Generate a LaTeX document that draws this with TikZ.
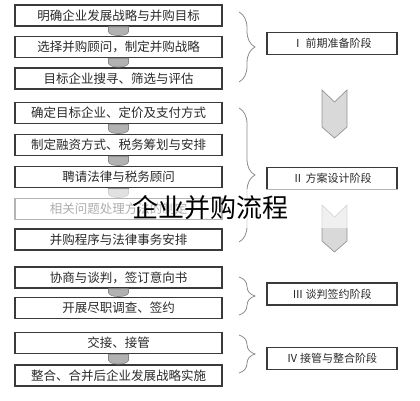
\documentclass[tikz,border=0pt]{standalone}
\usepackage{fontspec}
\setmainfont{Noto Sans CJK SC}
\newfontfamily\wmfont{Noto Sans CJK SC}
\usetikzlibrary{calc,decorations.pathreplacing}

\definecolor{boxline}{HTML}{3A3A3A}
\definecolor{boxtext}{HTML}{2A2A2A}

\begin{document}
\begin{tikzpicture}
  [x=1pt,y=-1pt,
   stepbox/.style={draw=boxline,line width=1.4pt,fill=white,text=boxtext,
     minimum width=207pt,minimum height=21pt,inner sep=0pt,font=\fontsize{12.5}{13}\selectfont},
   stagebox/.style={draw=boxline,line width=1.2pt,fill=white,text=boxtext,
     minimum width=130pt,minimum height=22pt,inner sep=0pt,font=\fontsize{11}{12}\selectfont},
   tab/.style={fill=black!30,draw=black!48,line width=.6pt},
   chev/.style={fill=black!15,draw=black!42,line width=.7pt},
   grp/.style={draw=black!45,line width=.8pt,decorate,decoration={brace,amplitude=16pt}}]
  \useasboundingbox (0,0) rectangle (420,400);
  % steps
  \node[stepbox] (sa) at (118.5,15.5)  {明确企业发展战略与并购目标};
  \node[stepbox] (sb) at (118.5,47)    {选择并购顾问，制定并购战略};
  \node[stepbox] (sc) at (118.5,78.5)  {目标企业搜寻、筛选与评估};
  \node[stepbox] (sd) at (118.5,113)   {确定目标企业、定价及支付方式};
  \node[stepbox] (se) at (118.5,145)   {制定融资方式、税务筹划与安排};
  \node[stepbox] (sf) at (118.5,177)   {聘请法律与税务顾问};
  \node[stepbox] (sg) at (118.5,209)   {相关问题处理方法的制定};
  \node[stepbox] (sh) at (118.5,239.5) {并购程序与法律事务安排};
  \node[stepbox] (si) at (118.5,277.5) {协商与谈判，签订意向书};
  \node[stepbox] (sj) at (118.5,308)   {开展尽职调查、签约};
  \node[stepbox] (sk) at (118.5,343)   {交接、接管};
  \node[stepbox] (sl) at (118.5,375.5) {整合、合并后企业发展战略实施};
  \foreach \from/\to in {sa/sb,sb/sc,sd/se,se/sf,sf/sg,si/sj,sk/sl}
    \draw[tab] ($(\from.south)+(-10,0)$) -- ($(\to.north)+(-10,-4)$)
      .. controls ($(\to.north)+(-9,1)$) and ($(\to.north)+(9,1)$) .. ($(\to.north)+(10,-4)$)
      -- ($(\from.south)+(10,0)$) -- cycle;
  % stages
  \node[stagebox] (pa) at (332,43.5)  {Ⅰ\ 前期准备阶段};
  \node[stagebox] (pb) at (332,178.5) {Ⅱ\ 方案设计阶段};
  \node[stagebox] (pc) at (332,294)   {Ⅲ\ 谈判签约阶段};
  \node[stagebox] (pd) at (332,358.5) {Ⅳ\ 接管与整合阶段};
  \draw[grp] (239,12) -- (239,82);
  \draw[grp] (239,108) -- (239,242);
  \draw[grp] (239,277) -- (239,315);
  \draw[grp] (239,335) -- (239,373);
  \draw[chev] (322,90) -- (334.5,102) -- (347,90) -- (347,127) -- (334.5,138) -- (322,127) -- cycle;
  \draw[chev] (322,205) -- (334.5,217) -- (347,205) -- (347,241) -- (334.5,252) -- (322,241) -- cycle;
  % title over a pale band
  \fill[white,opacity=.62] (0,189) rectangle (420,228);
  \node[font=\wmfont\fontsize{26}{28}\selectfont,inner sep=0pt] (tt) at (210,207.5) {企业并购流程};
\end{tikzpicture}
\end{document}
